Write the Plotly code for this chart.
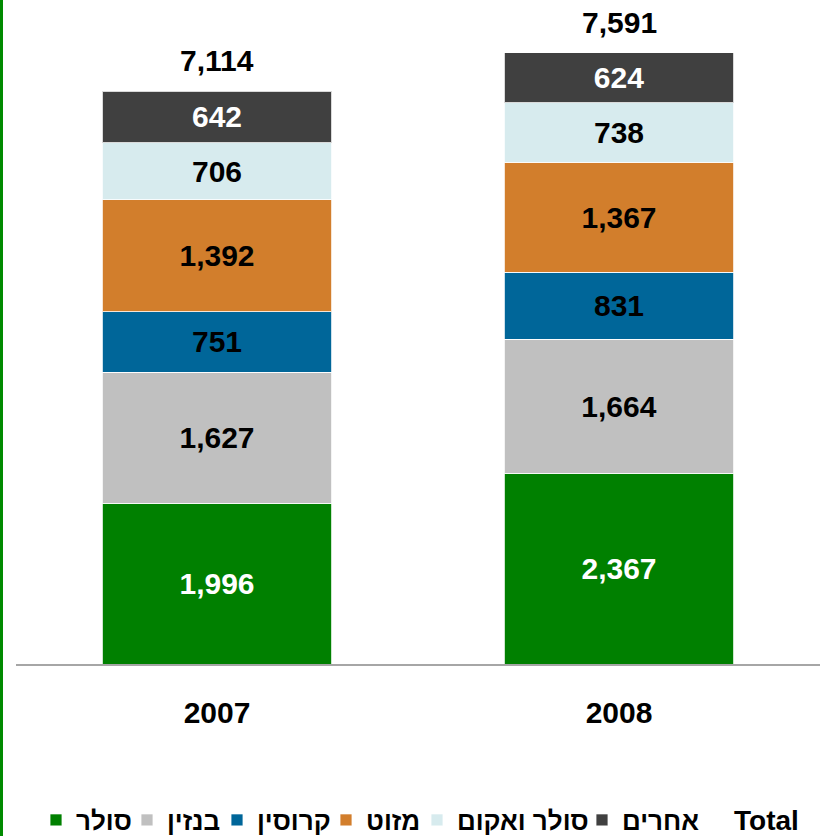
import plotly.graph_objects as go

years = ["2007", "2008"]
series_names = ["סולר", "בנזין", "קרוסין", "מזוט", "סולר ואקום", "אחרים"]
solar = [1996, 2367]
benzin = [1627, 1664]
kerosene = [751, 831]
mazut = [1392, 1367]
vacuum = [706, 738]
others = [642, 624]
totals = [7114, 7591]
total_label = "Total"

series_values = [solar, benzin, kerosene, mazut, vacuum, others]
colors = ["#008000", "#C0C0C0", "#006699", "#D27E2C", "#D7EBEE", "#404040"]
text_colors = ["white", "black", "black", "black", "black", "white"]

# body margin is removed in the page (post_script), so figure pixels == page pixels
W, H = 823, 836
PLOT_L, PLOT_R = 16, 820
BASE_Y = 664
L_MARGIN, R_MARGIN, T_MARGIN, B_MARGIN = PLOT_L, W - PLOT_R, 0, H - BASE_Y
PW = PLOT_R - PLOT_L
PH = BASE_Y
PX_PER_UNIT = 573 / 7114
Y_MAX = PH / PX_PER_UNIT

LEG_CY = 820
# legend text start positions (pixels) for each entry
legend_text_px = [77, 168, 258, 367, 458, 623]

FONT = "Liberation Sans, Arial, DejaVu Sans, sans-serif"


def px_x(p):
    return (p - L_MARGIN) / PW


fig = go.Figure()
legend_layouts = {}
for i, (name, vals, col, tcol) in enumerate(zip(series_names, series_values, colors, text_colors)):
    lid = "legend" if i == 0 else f"legend{i + 1}"
    fig.add_trace(go.Bar(
        x=years, y=vals, name=name, legend=lid,
        marker=dict(color=col, line=dict(color="rgba(255,255,255,0.8)", width=1)),
        text=[f"{v:,}" for v in vals],
        textposition="inside", insidetextanchor="middle", textangle=0,
        constraintext="none",
        textfont=dict(family=FONT, size=30, color=tcol, weight="bold"),
        width=0.57,
        hoverinfo="skip",
    ))
    legend_layouts[lid] = dict(
        orientation="h", xref="paper", x=px_x(legend_text_px[i] - 41), xanchor="left",
        yref="container", y=(H - LEG_CY) / H, yanchor="middle",
        font=dict(family=FONT, size=26, color="black", weight="bold"),
        itemclick=False, itemdoubleclick=False, bgcolor="rgba(0,0,0,0)",
    )

for i, tot in enumerate(totals):
    fig.add_annotation(x=i, y=tot, text=f"{tot:,}", showarrow=False,
                       yanchor="bottom", yshift=12,
                       font=dict(family=FONT, size=30, color="black", weight="bold"))

# "Total" legend entry (text only)
fig.add_annotation(xref="paper", yref="paper", x=px_x(801), y=(PH - LEG_CY) / PH,
                   xanchor="right", yanchor="middle", text=total_label, showarrow=False,
                   font=dict(family=FONT, size=28, color="black", weight="bold"))

# green frame line at left edge
fig.add_shape(type="line", xref="paper", yref="paper",
              x0=px_x(1.5), x1=px_x(1.5), y0=-B_MARGIN / PH, y1=1.0,
              line=dict(color="#008A00", width=3))

fig.update_layout(
    width=W, height=H,
    margin=dict(l=L_MARGIN, r=R_MARGIN, t=T_MARGIN, b=B_MARGIN, autoexpand=False),
    barmode="stack",
    plot_bgcolor="white", paper_bgcolor="white",
    showlegend=True,
    hovermode=False,
    xaxis=dict(type="category", range=[-0.5, 1.5], showline=True,
               linecolor="#A6A6A6", linewidth=2, showgrid=False, ticks="",
               ticklabelstandoff=21,
               tickfont=dict(family=FONT, size=30, color="black", weight="bold")),
    yaxis=dict(range=[0, Y_MAX], visible=False, showgrid=False, zeroline=False),
    **legend_layouts,
)

fig.write_html("out.html", config={"displayModeBar": False},
               post_script="document.body.style.margin='0px';")
